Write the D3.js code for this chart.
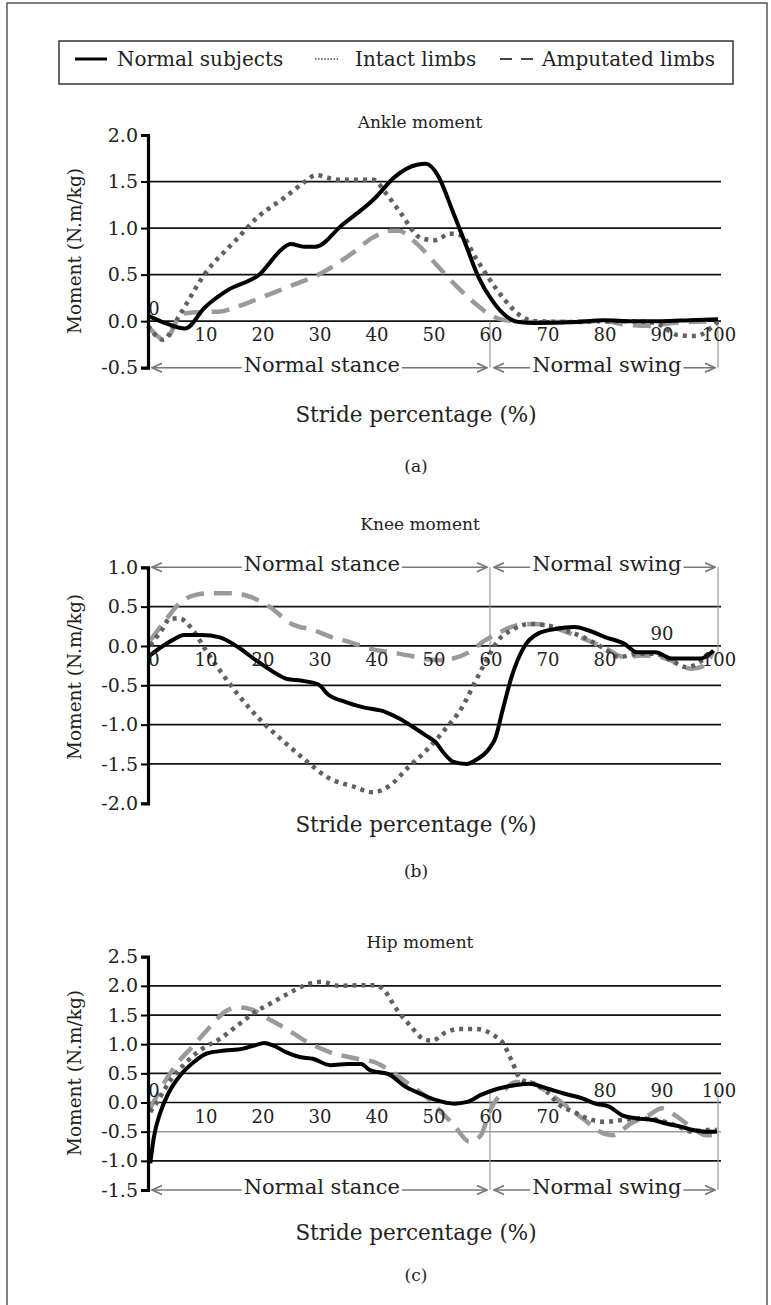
<!DOCTYPE html>
<html>
<head>
<meta charset="utf-8">
<script src="https://cdn.jsdelivr.net/npm/d3@7"></script>
<style>
  body { margin: 0; background: #fff; }
  svg text { font-family: "DejaVu Serif", serif; fill: #222; }
</style>
</head>
<body>
<svg width="771" height="1305"></svg>
<script>
const seriesNames = ['Normal subjects', 'Intact limbs', 'Amputated limbs'];
const xTicks = [0, 10, 20, 30, 40, 50, 60, 70, 80, 90, 100];

// ankle moment (N.m/kg) vs stride %
const ankleNormal = [[0,0.06],[3,-0.02],[6.5,-0.08],[10,0.15],[13.9,0.33],[19.7,0.51],[23.6,0.78],[25,0.83],[27.4,0.8],[29.4,0.8],[34,1.03],[39.8,1.32],[43.3,1.55],[47.2,1.68],[48.8,1.69],[51,1.55],[53.4,1.19],[55.7,0.83],[58,0.47],[60.4,0.22],[62.7,0.06],[65,-0.01],[68,-0.02],[75,-0.01],[80,0.01],[85,0.0],[90,0.0],[95,0.01],[100,0.02]];
const ankleIntact = [[0,-0.05],[2.7,-0.2],[5.3,0.04],[10,0.51],[15.4,0.87],[19.3,1.12],[24,1.33],[27.8,1.51],[29.4,1.57],[33.3,1.52],[39.5,1.52],[41.8,1.37],[44,1.19],[48,0.89],[50.4,0.87],[53,0.94],[55,0.92],[57.4,0.69],[59.7,0.47],[62.7,0.22],[65.8,0.04],[68,0.0],[75,-0.01],[80,0.0],[85,0.0],[89,-0.02],[93,-0.15],[96,-0.16],[100,0.0]];
const ankleAmputated = [[0,-0.05],[3,-0.2],[6,0.08],[10,0.1],[12.4,0.1],[15.4,0.15],[19.3,0.24],[24.7,0.37],[30.2,0.51],[35.6,0.72],[39.5,0.9],[42.6,0.97],[44,0.97],[47.2,0.83],[50.4,0.62],[54.2,0.37],[57.4,0.19],[59.7,0.08],[62.7,0.01],[70,-0.01],[80,0.0],[84,-0.04],[88,-0.05],[92,-0.02],[100,0.0]];

// knee moment
const kneeNormal = [[0,-0.14],[2.4,-0.01],[4.7,0.09],[6.3,0.14],[9.4,0.14],[12.6,0.11],[15.7,-0.01],[18.9,-0.18],[22,-0.33],[24.4,-0.42],[26.8,-0.44],[29.9,-0.49],[31.5,-0.61],[34.6,-0.71],[37.8,-0.78],[41.7,-0.84],[44,-0.92],[46.5,-1.03],[48.8,-1.14],[50.4,-1.22],[52,-1.37],[53.5,-1.47],[55.9,-1.5],[57.5,-1.45],[59.8,-1.31],[61,-1.16],[62.2,-0.82],[63.8,-0.39],[66,-0.01],[68.5,0.16],[71.7,0.22],[74.8,0.24],[77.2,0.2],[80.3,0.11],[83.5,0.03],[85.8,-0.08],[89,-0.08],[92,-0.16],[94.5,-0.16],[96.9,-0.16],[99.2,-0.06]];
const kneeIntact = [[0.4,0.01],[2.4,0.2],[3.9,0.35],[5.5,0.35],[7.9,0.2],[10.2,-0.06],[12.6,-0.31],[15.7,-0.61],[19.7,-0.94],[23.6,-1.2],[27.6,-1.45],[31.5,-1.67],[36.2,-1.79],[39.4,-1.86],[42.5,-1.77],[45.7,-1.54],[48.8,-1.33],[52,-1.07],[55.1,-0.78],[57.5,-0.44],[59.4,-0.18],[61.4,0.07],[63.8,0.2],[66.9,0.28],[70.1,0.26],[73.2,0.2],[76.4,0.11],[79.5,-0.01],[82.7,-0.14],[85.8,-0.1],[89,-0.1],[92.1,-0.2],[94.5,-0.27],[96.9,-0.2],[98.8,-0.08]];
const kneeAmputated = [[0.4,0.07],[3.1,0.33],[5.5,0.54],[7.9,0.64],[11,0.67],[15,0.67],[18.1,0.62],[21.3,0.5],[25.2,0.28],[29.1,0.2],[32.3,0.11],[35.4,0.05],[38.6,-0.03],[42.5,-0.08],[45.7,-0.12],[48.8,-0.17],[51.2,-0.18],[53.5,-0.16],[56.3,-0.08],[59.1,0.07],[61.4,0.16],[64.6,0.26],[67.7,0.28],[70.9,0.24],[74,0.16],[77.2,0.07],[80.3,-0.03],[83.5,-0.14],[86.6,-0.12],[89.8,-0.14],[92.9,-0.22],[95.3,-0.29],[97.6,-0.25],[99.2,-0.06]];

// hip moment
const hipNormal = [[0.4,-1.04],[1,-0.61],[2.2,-0.16],[3.7,0.18],[5.7,0.47],[8,0.69],[10.3,0.84],[13.4,0.89],[16.5,0.92],[18.8,0.98],[20.4,1.02],[21.9,0.98],[24.3,0.86],[26.6,0.78],[28.9,0.75],[32,0.64],[35.1,0.66],[37.4,0.66],[39,0.55],[42.1,0.49],[45.2,0.27],[48.3,0.13],[50.6,0.04],[53.7,-0.02],[56,0.01],[58.4,0.13],[61.5,0.24],[64.6,0.3],[66.9,0.32],[70,0.24],[73.1,0.15],[76.2,0.07],[78.5,-0.02],[80.9,-0.07],[83.2,-0.22],[85.5,-0.27],[88.6,-0.3],[90.9,-0.36],[93.3,-0.41],[95.6,-0.47],[97.9,-0.5],[99.8,-0.5]];
const hipIntact = [[0.4,-0.16],[1.8,0.04],[3.7,0.35],[6.4,0.66],[9.5,0.92],[12.6,1.09],[15.7,1.32],[18.8,1.55],[21.9,1.72],[25,1.89],[28.1,2.03],[30.5,2.07],[33.6,2.0],[36.7,2.01],[39.8,2.01],[41.3,1.94],[43.6,1.6],[46,1.32],[48.3,1.09],[49.8,1.06],[52.2,1.2],[54.5,1.26],[57.6,1.26],[60.7,1.15],[62.2,1.03],[63.8,0.72],[65.3,0.41],[67.7,0.32],[70,0.18],[72.3,-0.05],[74.7,-0.16],[77,-0.27],[80.1,-0.33],[83.2,-0.3],[86.3,-0.27],[89.4,-0.3],[92.5,-0.39],[95.6,-0.5],[97.9,-0.47],[99.8,-0.47]];
const hipAmputated = [[0.4,-0.1],[2.6,0.3],[4.9,0.64],[8,0.98],[11.1,1.32],[13.4,1.55],[15.7,1.63],[18,1.6],[21.2,1.43],[24.3,1.26],[28.1,1.03],[32,0.86],[36.7,0.75],[39.8,0.69],[42.9,0.52],[46,0.3],[49.1,0.07],[51.4,-0.16],[53.7,-0.39],[56.4,-0.67],[58.4,-0.56],[59.9,-0.16],[62.2,0.18],[64.6,0.35],[66.9,0.35],[69.2,0.24],[71.6,0.07],[73.9,-0.1],[77,-0.33],[79.3,-0.5],[81.6,-0.56],[84.7,-0.36],[87.8,-0.22],[90.2,-0.1],[92.5,-0.22],[95.6,-0.44],[97.9,-0.56],[99.8,-0.56]];

const svg = d3.select('svg');

// outer frame
svg.append('rect')
  .attr('x', 7).attr('y', 3)
  .attr('width', 760).attr('height', 1320)
  .attr('fill', 'none').attr('stroke', '#555').attr('stroke-width', 1.5);

const styles = [
  { stroke: '#000', width: 4, dash: null },
  { stroke: '#606060', width: 4.5, dash: '4,5' },
  { stroke: '#9a9a9a', width: 4.5, dash: '18,10' }
];

// legend
const legend = svg.append('g');
legend.append('rect')
  .attr('x', 59).attr('y', 41).attr('width', 674).attr('height', 43)
  .attr('fill', 'none').attr('stroke', '#333').attr('stroke-width', 1.5);
const legendX = [75, 315, 500];
const legendTextX = [117, 355, 542];
const legendStyle = [
  { len: 32, width: 3, dash: null, stroke: '#000' },
  { len: 23, width: 1.5, dash: '1.5,1.6', stroke: '#444' },
  { len: 33, width: 2, dash: '12,9', stroke: '#444' }
];
seriesNames.forEach((name, i) => {
  legend.append('line')
    .attr('x1', legendX[i]).attr('x2', legendX[i] + legendStyle[i].len)
    .attr('y1', 59).attr('y2', 59)
    .attr('stroke', legendStyle[i].stroke)
    .attr('stroke-width', legendStyle[i].width)
    .attr('stroke-dasharray', legendStyle[i].dash);
  legend.append('text')
    .attr('x', legendTextX[i]).attr('y', 66)
    .attr('font-size', 20)
    .text(name);
});

const xScale = d3.scaleLinear().domain([0, 100]).range([148, 718]);

const panels = [
  {
    title: 'Ankle moment', tag: '(a)', top: 135, bottom: 367.7,
    domain: [-0.5, 2.0], yTicks: [-0.5, 0, 0.5, 1.0, 1.5, 2.0],
    grid: [0, 0.5, 1.0, 1.5], greyGrid: [],
    arrowY: -0.5, sepFrom: 0, sepTo: -0.5,
    above: [0],
    data: [ankleNormal, ankleIntact, ankleAmputated],
    titleY: 128, strideY: 422, tagY: 472, ylabelY: 251
  },
  {
    title: 'Knee moment', tag: '(b)', top: 567.3, bottom: 803.3,
    domain: [-2.0, 1.0], yTicks: [-2.0, -1.5, -1.0, -0.5, 0, 0.5, 1.0],
    grid: [-1.5, -1.0, -0.5, 0, 0.5], greyGrid: [],
    arrowY: 1.0, sepFrom: 1.0, sepTo: -0.1,
    above: [90],
    data: [kneeNormal, kneeIntact, kneeAmputated],
    titleY: 530, strideY: 832, tagY: 877, ylabelY: 677
  },
  {
    title: 'Hip moment', tag: '(c)', top: 956.7, bottom: 1190,
    domain: [-1.5, 2.5], yTicks: [-1.5, -1.0, -0.5, 0, 0.5, 1.0, 1.5, 2.0, 2.5],
    grid: [-1.0, 0, 0.5, 1.0, 1.5, 2.0], greyGrid: [-0.5],
    arrowY: -1.5, sepFrom: 0.2, sepTo: -1.5,
    above: [0, 80, 90, 100],
    data: [hipNormal, hipIntact, hipAmputated],
    titleY: 948, strideY: 1240, tagY: 1281, ylabelY: 1073
  }
];

svg.append('defs').append('marker')
  .attr('id', 'arr')
  .attr('viewBox', '0 0 10 10')
  .attr('refX', 9).attr('refY', 5)
  .attr('markerWidth', 7).attr('markerHeight', 7)
  .attr('orient', 'auto-start-reverse')
  .append('path')
  .attr('d', 'M0,1 L9,5 L0,9')
  .attr('fill', 'none').attr('stroke', '#777').attr('stroke-width', 1.5);

panels.forEach(p => {
  const g = svg.append('g');
  const y = d3.scaleLinear().domain(p.domain).range([p.bottom, p.top]);

  g.append('text')
    .attr('x', 420).attr('y', p.titleY)
    .attr('text-anchor', 'middle').attr('font-size', 17)
    .text(p.title);

  // gridlines
  g.selectAll('.grid')
    .data(p.grid)
    .enter()
    .append('line')
    .attr('x1', xScale(0)).attr('x2', xScale(100) + 3)
    .attr('y1', d => y(d)).attr('y2', d => y(d))
    .attr('stroke', '#111').attr('stroke-width', 1.7);
  g.selectAll('.ggrid')
    .data(p.greyGrid)
    .enter()
    .append('line')
    .attr('x1', xScale(0)).attr('x2', xScale(100) + 3)
    .attr('y1', d => y(d)).attr('y2', d => y(d))
    .attr('stroke', '#999').attr('stroke-width', 1.4);

  // stance / swing separators
  g.selectAll('.sep')
    .data([60, 100])
    .enter()
    .append('line')
    .attr('x1', d => xScale(d)).attr('x2', d => xScale(d))
    .attr('y1', y(p.sepFrom)).attr('y2', y(p.sepTo))
    .attr('stroke', '#999').attr('stroke-width', 1.2);

  // phase arrows
  const phases = [
    { from: 0, to: 60, label: 'Normal stance', mid: 30.5 },
    { from: 60, to: 100, label: 'Normal swing', mid: 80.5 }
  ];
  phases.forEach(ph => {
    g.append('line')
      .attr('x1', xScale(ph.from) + 4).attr('x2', xScale(ph.to) - 3)
      .attr('y1', y(p.arrowY)).attr('y2', y(p.arrowY))
      .attr('stroke', '#777').attr('stroke-width', 1.6)
      .attr('marker-start', 'url(#arr)')
      .attr('marker-end', 'url(#arr)');
    const t = g.append('text')
      .attr('x', xScale(ph.mid)).attr('y', y(p.arrowY) + 4)
      .attr('text-anchor', 'middle').attr('font-size', 21)
      .attr('fill', '#333')
      .text(ph.label);
    const bb = t.node().getBBox();
    g.insert('rect', () => t.node())
      .attr('x', bb.x - 2).attr('y', y(p.arrowY) - 3)
      .attr('width', bb.width + 4).attr('height', 6)
      .attr('fill', '#fff');
  });

  // series
  const line = d3.line()
    .x(d => xScale(d[0]))
    .y(d => y(d[1]))
    .curve(d3.curveMonotoneX);
  [2, 1, 0].forEach(i => {
    g.append('path')
      .datum(p.data[i])
      .attr('d', line)
      .attr('fill', 'none')
      .attr('stroke', styles[i].stroke)
      .attr('stroke-width', styles[i].width)
      .attr('stroke-dasharray', styles[i].dash)
      .attr('stroke-linejoin', 'round');
  });

  // x tick labels sit on the zero line
  g.selectAll('.xt')
    .data(xTicks)
    .enter()
    .append('text')
    .attr('x', d => xScale(d) + (d === 0 ? 6 : 1))
    .attr('y', d => p.above.includes(d) ? y(0) - 6 : y(0) + 20)
    .attr('text-anchor', 'middle').attr('font-size', 18)
    .attr('fill', '#333')
    .text(d => d);

  // y axis
  const yAxis = d3.axisLeft(y)
    .tickValues(p.yTicks)
    .tickFormat(d => d.toFixed(1))
    .tickSize(7)
    .tickPadding(3);
  const ax = g.append('g')
    .attr('transform', `translate(${xScale(0)},0)`)
    .call(yAxis);
  ax.select('.domain').attr('stroke', '#000').attr('stroke-width', 3.2);
  ax.selectAll('.tick line').attr('stroke', '#000').attr('stroke-width', 2);
  ax.selectAll('.tick text')
    .attr('font-size', 19)
    .attr('font-family', '"DejaVu Serif", serif')
    .attr('fill', '#222');

  g.append('text')
    .attr('transform', `translate(81,${p.ylabelY}) rotate(-90)`)
    .attr('text-anchor', 'middle').attr('font-size', 18.5)
    .text('Moment (N.m/kg)');

  g.append('text')
    .attr('x', 416).attr('y', p.strideY)
    .attr('text-anchor', 'middle').attr('font-size', 21.5)
    .text('Stride percentage (%)');

  g.append('text')
    .attr('x', 416).attr('y', p.tagY)
    .attr('text-anchor', 'middle').attr('font-size', 17)
    .text(p.tag);
});
</script>
</body>
</html>
